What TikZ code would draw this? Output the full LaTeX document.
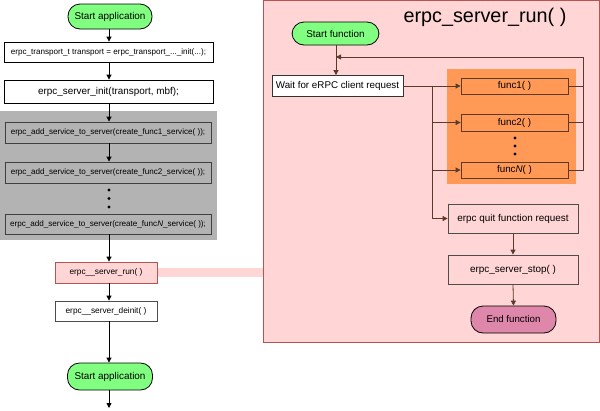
\documentclass[tikz,border=0pt]{standalone}
\usepackage{fontspec}
\setmainfont{Liberation Sans}
\usetikzlibrary{arrows.meta}
\definecolor{pinkbg}{HTML}{FFD5D5}
\definecolor{pinkbd}{HTML}{B85450}
\definecolor{graybg}{HTML}{B3B3B3}
\definecolor{orangebg}{HTML}{FF9955}
\definecolor{greenfill}{HTML}{80FF80}
\definecolor{endfill}{HTML}{DE87AA}
\definecolor{brownbd}{HTML}{5A3A2A}
\tikzset{
  fs/.style={font=\fontsize{#1}{#1}\selectfont},
  box/.style={draw, rectangle, inner sep=0pt, align=center, line width=0.8pt},
  term/.style={draw, rectangle, rounded corners=12pt, fill=greenfill, inner sep=0pt, line width=0.8pt, fs=9.9},
  arr/.style={-{Triangle[length=5pt,width=5pt]}, line width=0.8pt},
  dotc/.style={fill=black, draw=none, circle, inner sep=0pt, minimum size=3.4pt},
}
\begin{document}
\begin{tikzpicture}[x=1pt,y=-1pt]
\useasboundingbox (0,0) rectangle (600,410);
% left column
\node[term, minimum width=84pt, minimum height=25pt] (startA) at (110,16.5) {Start application};
\node[box, fill=white, minimum width=209pt, minimum height=20pt, fs=8.1] (t1) at (108.5,52) {erpc\_transport\_t transport = erpc\_transport\_...\_init(...);};
\node[box, fill=white, minimum width=209pt, minimum height=23pt, fs=9.9] (t2) at (108.5,91.5) {erpc\_server\_init(transport, mbf);};
\fill[graybg] (0,111) rectangle (217,240);
\node[box, draw=black!75, fill=graybg, minimum width=206pt, minimum height=21pt, fs=8.1] (s1) at (108,132.5) {erpc\_add\_service\_to\_server(create\_func1\_service( ));};
\node[box, draw=black!75, fill=graybg, minimum width=206pt, minimum height=21pt, fs=8.1] (s2) at (108,172.5) {erpc\_add\_service\_to\_server(create\_func2\_service( ));};
\node[box, draw=black!75, fill=graybg, minimum width=206pt, minimum height=20pt, fs=8.1] (sN) at (108,224) {erpc\_add\_service\_to\_server(create\_func\textit{N}\_service( ));};
\node[dotc] (ld1) at (109,190) {};
\node[dotc] (ld2) at (109,198.5) {};
\node[dotc] (ld3) at (109,207) {};
% right region
\fill[pinkbg] (157,268) rectangle (264,277);
\draw[pinkbd, fill=pinkbg, line width=0.8pt] (263,0.5) rectangle (599,342);
\node[box, draw=pinkbd, fill=pinkbg, minimum width=102pt, minimum height=21pt, fs=8.3] (run) at (106,272.5) {erpc\_\_server\_run( )};
\node[box, draw=black!70, fill=white, minimum width=102pt, minimum height=20pt, fs=8.3] (deinit) at (106,311) {erpc\_\_server\_deinit( )};
\node[term, minimum width=85pt, minimum height=27pt] (startB) at (110,376.5) {Start application};
\coordinate (bottom) at (109,408);
\draw[arr] (startA.south -| 109,0) -- (t1.north -| 109,0);
\draw[arr] (t1.south -| 109,0) -- (t2.north -| 109,0);
\draw[arr] (t2.south -| 109,0) -- (s1.north -| 109,0);
\draw[arr] (s1.south -| 109,0) -- (s2.north -| 109,0);
\draw[arr] (sN.south -| 109,0) -- (run.north -| 109,0);
\draw[arr] (run.south -| 109,0) -- (deinit.north -| 109,0);
\draw[arr] (deinit.south -| 109,0) -- (startB.north -| 109,0);
\draw[arr] (startB.south -| 109,0) -- (bottom);
% right content
\node[fs=19.8] (title) at (485,17) {erpc\_server\_run( )};
\node[term, minimum width=87pt, minimum height=23pt] (startF) at (335.5,33.5) {Start function};
\node[box, fill=white, draw=black!80, minimum width=131pt, minimum height=21pt, fs=9.8] (wait) at (337.5,86) {Wait for eRPC client request};
\fill[orangebg] (447,69) rectangle (576,184);
\node[box, draw=brownbd, fill=orangebg, minimum width=107pt, minimum height=16pt, fs=9.8] (f1) at (514.5,86) {func1( )};
\node[box, draw=brownbd, fill=orangebg, minimum width=107pt, minimum height=17pt, fs=9.8] (f2) at (514.5,122.5) {func2( )};
\node[box, draw=brownbd, fill=orangebg, minimum width=107pt, minimum height=16pt, fs=9.8] (fN) at (514.5,170) {func\textit{N}( )};
\node[dotc] (rd1) at (515,138) {};
\node[dotc] (rd2) at (515,146) {};
\node[dotc] (rd3) at (515,154) {};
\node[box, draw=black!70, fill=pinkbg, minimum width=130pt, minimum height=29pt, fs=9.9] (quit) at (513,218.5) {erpc quit function request};
\node[box, draw=black!70, fill=pinkbg, minimum width=130pt, minimum height=29pt, fs=9.9] (stop) at (513,269.5) {erpc\_server\_stop( )};
\node[term, fill=endfill, minimum width=85pt, minimum height=27pt, fs=9.7] (endF) at (513.5,319.5) {End function};
\coordinate (split) at (432,86);
\coordinate (splitq) at (432,218.5);
\coordinate (loopr) at (583,57);
\coordinate (loopl) at (336,57);
\draw[arr, brownbd] (startF.south -| 336,0) -- (wait.north -| 336,0);
\draw[brownbd, line width=0.8pt] (wait.east) -- (split) -- (splitq);
\draw[arr, brownbd] (split) -- (f1.west);
\draw[arr, brownbd] (split |- f2.west) -- (f2.west);
\draw[arr, brownbd] (split |- fN.west) -- (fN.west);
\draw[arr, brownbd] (splitq) -- (quit.west);
\draw[brownbd, line width=0.8pt] (f1.east) -- (f1.east -| loopr);
\draw[brownbd, line width=0.8pt] (f2.east) -- (f2.east -| loopr);
\draw[arr, brownbd] (fN.east) -- (fN.east -| loopr) -- (loopr) -- (loopl);
\draw[arr, brownbd] (quit.south) -- (stop.north);
\draw[arr, brownbd] (stop.south) -- (endF.north);
\end{tikzpicture}
\end{document}
